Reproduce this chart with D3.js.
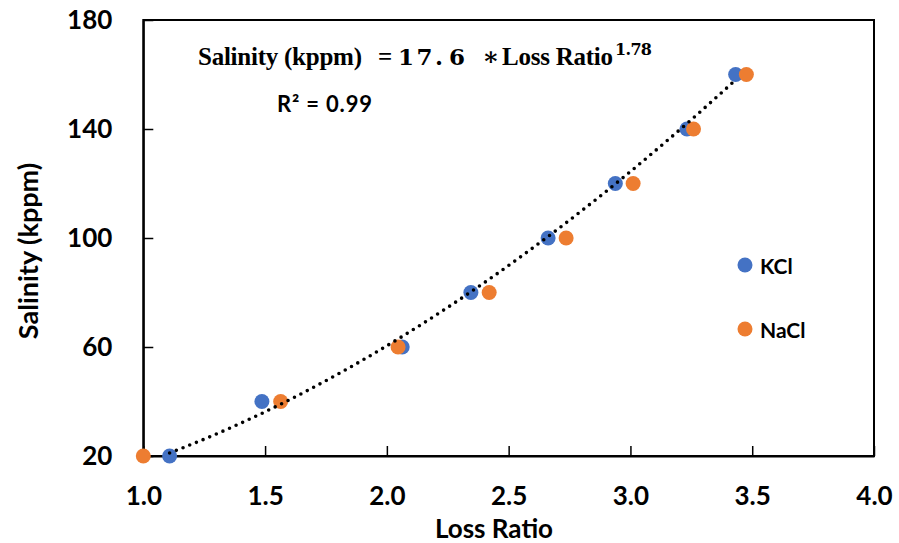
<!DOCTYPE html>
<html>
<head>
<meta charset="utf-8">
<script src="https://cdn.jsdelivr.net/npm/d3@7"></script>
<style>
  body { margin: 0; background: #fff; }
  svg { display: block; }
  text { font-family: Lato, "Open Sans", sans-serif; font-weight: bold; fill: #000; }
</style>
</head>
<body>
<svg id="chart" width="899" height="543"></svg>
<script>
// ---- data ----
const yValues = [20, 40, 60, 80, 100, 120, 140, 160];
const kclLossRatio = [1.108, 1.487, 2.063, 2.345, 2.662, 2.938, 3.232, 3.432];
const naclLossRatio = [1.0, 1.564, 2.046, 2.42, 2.736, 3.011, 3.259, 3.476];
const xTicks = [1.0, 1.5, 2.0, 2.5, 3.0, 3.5, 4.0];
const yTicks = [20, 60, 100, 140, 180];
const seriesNames = ["KCl", "NaCl"];
const seriesColors = ["#4472C4", "#ED7D31"];
const fitCoef = 17.6, fitExp = 1.78;

const svg = d3.select("#chart");
const mLeft = 143.3, mRight = 874, mTop = 20, mBottom = 456;
const x = d3.scaleLinear().domain([1, 4]).range([mLeft, mRight]);
const y = d3.scaleLinear().domain([20, 180]).range([mBottom, mTop]);

// frame
svg.append("rect").attr("x", mLeft).attr("y", mTop)
  .attr("width", mRight - mLeft).attr("height", mBottom - mTop)
  .attr("fill", "none").attr("stroke", "#000").attr("stroke-width", 2);

// axes
const xAxis = svg.append("g").attr("transform", `translate(0,${mBottom})`)
  .call(d3.axisBottom(x).tickValues(xTicks).tickFormat(d3.format(".1f"))
    .tickSizeInner(-10).tickSizeOuter(0).tickPadding(31));
const yAxis = svg.append("g").attr("transform", `translate(${mLeft},0)`)
  .call(d3.axisLeft(y).tickValues(yTicks).tickSizeInner(-10).tickSizeOuter(0).tickPadding(31));
[xAxis, yAxis].forEach(g => {
  g.select(".domain").attr("stroke", "#000").attr("stroke-width", 2);
  g.selectAll(".tick line").attr("stroke", "#000").attr("stroke-width", 1.5);
  g.selectAll(".tick text").style("font-size", "26px").style("font-family", "Lato, sans-serif")
    .style("font-weight", "bold").attr("fill", "#000");
});

// trend line (power fit)
const xs = d3.range(kclLossRatio[0], kclLossRatio[kclLossRatio.length - 1] + 1e-9, 0.01);
const line = d3.line().x(d => x(d)).y(d => y(fitCoef * Math.pow(d, fitExp)));

// points
const series = [kclLossRatio, naclLossRatio];
series.forEach((xv, i) => {
  svg.append("g").selectAll("circle").data(xv).join("circle")
    .attr("cx", d => x(d)).attr("cy", (d, j) => y(yValues[j]))
    .attr("r", 7.5).attr("fill", seriesColors[i]);
});
svg.append("path").datum(xs).attr("d", line)
  .attr("fill", "none").attr("stroke", "#000").attr("stroke-width", 3.6)
  .attr("stroke-linecap", "round").attr("stroke-dasharray", "0 7.2");

// legend
const legY = [265, 329];
seriesNames.forEach((n, i) => {
  svg.append("circle").attr("cx", 745).attr("cy", legY[i]).attr("r", 7.5).attr("fill", seriesColors[i]);
  svg.append("text").attr("x", 760).attr("y", legY[i] + 9).style("font-size", "21px").text(n);
});

// axis titles
svg.append("text").attr("x", 494).attr("y", 537.5).attr("text-anchor", "middle")
  .style("font-size", "26px").text("Loss Ratio");
svg.append("text").attr("transform", "translate(38,251) rotate(-90)").attr("text-anchor", "middle")
  .style("font-size", "27px").text("Salinity (kppm)");

// equation (segments placed as in the reference)
const serif = "'Liberation Serif', 'DejaVu Serif', serif";
const eqParts = [
  { t: "Salinity (kppm)", x0: 198, x1: 362, f: serif, s: 25 },
  { t: "=", x0: 378, x1: 393, f: serif, s: 25 },
  { t: "17.", x0: 398, x1: 443, f: "'DejaVu Serif', serif", s: 23 },
  { t: "6", x0: 449, x1: 466, f: "'DejaVu Serif', serif", s: 23 },
  { t: "\u2217", x0: 482, x1: 491, f: serif, s: 25 },
  { t: "Loss Ratio", x0: 502, x1: 613, f: serif, s: 25 }
];
eqParts.forEach(p => {
  svg.append("text").attr("x", p.x0).attr("y", 65)
    .style("font-family", p.f).style("font-size", p.s + "px")
    .attr("textLength", p.x1 - p.x0).attr("lengthAdjust", "spacing")
    .text(p.t);
});
svg.append("text").attr("x", 615).attr("y", 55)
  .style("font-family", "'DejaVu Serif', serif").style("font-size", "16px")
  .attr("textLength", 37).attr("lengthAdjust", "spacing").text("1.78");

svg.append("text").attr("x", 277).attr("y", 112).style("font-size", "22px")
  .attr("textLength", 95).attr("lengthAdjust", "spacing").text("R\u00B2 = 0.99");
</script>
</body>
</html>
